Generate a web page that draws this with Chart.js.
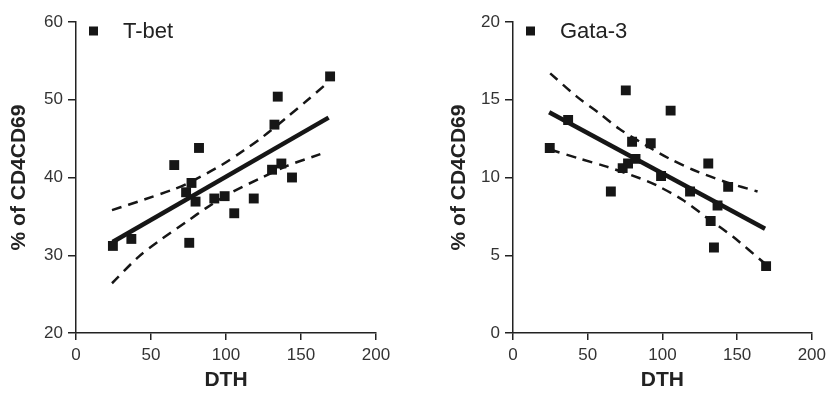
<!DOCTYPE html>
<html lang="en">
<head>
<meta charset="UTF-8">
<title>T-bet / Gata-3 vs DTH</title>
<script src="https://cdn.jsdelivr.net/npm/chart.js"></script>
<style>
  body { margin: 0; background: #fff; }
  .panel { position: absolute; top: 0; height: 398px; }
</style>
</head>
<body>
<div class="panel" style="left:0;width:415px"><canvas id="tbetChart" width="415" height="398"></canvas></div>
<div class="panel" style="left:437px;width:394px"><canvas id="gataChart" width="394" height="398"></canvas></div>

<script>
// DTH values (same subjects in both panels)
const dth = [24.6, 36.9, 65.5, 73.4, 75.5, 77.0, 79.7, 82.0, 92.2, 99.1, 105.5, 118.5, 130.7, 132.3, 134.5, 136.9, 144.0, 169.4];
// % of CD4CD69
const tbet  = [31.2, 32.1, 41.6, 38.1, 31.6, 39.3, 36.9, 43.8, 37.3, 37.6, 35.4, 37.3, 41.0, 46.8, 50.4, 41.8, 40.0, 53.0];
const gata3 = [11.9, 13.7, 9.1, 10.6, 15.6, 10.9, 12.3, 11.2, 12.2, 10.1, 14.3, 9.1, 10.9, 7.2, 5.5, 8.2, 9.4, 4.3];

// regression lines
const tbetFitX = [24.4, 168.4];
const tbetFitY = [31.7, 47.7];
const gataFitX = [24.2, 168.7];
const gataFitY = [14.2, 6.7];

// confidence bands (dashed)
const tbetUpperX = [24, 46, 64, 75, 97, 112, 125, 141, 154, 166];
const tbetUpperY = [35.8, 37.2, 38.4, 39.3, 41.6, 43.5, 45.3, 47.8, 49.9, 51.9];
const tbetLowerX = [24, 41.7, 55.1, 75.1, 86.2, 102.9, 122.9, 140.7, 162.9];
const tbetLowerY = [26.4, 29.8, 31.8, 34.5, 36.0, 38.0, 39.9, 41.5, 43.0];

const gataUpperX = [24.9, 42.7, 58.2, 71.5, 93.7, 104.9, 120.4, 142.7, 163.7];
const gataUpperY = [16.7, 15.2, 14.1, 13.1, 11.8, 11.2, 10.5, 9.7, 9.1];
const gataLowerX = [24.9, 44.9, 62.7, 84.9, 96, 113.7, 129.3, 147.1, 168.2];
const gataLowerY = [11.8, 11.2, 10.7, 9.95, 9.5, 8.55, 7.45, 6.2, 4.5];

const FONT = '"Liberation Sans", Arial, sans-serif';
const INK = '#161616';

function pts(xs, ys) {
    return xs.map((x, i) => ({ x: x, y: ys[i] }));
}

// little legend in the top-left corner of the plot
const cornerLabel = {
    id: 'cornerLabel',
    afterDraw(chart, args, opts) {
        const { ctx, chartArea } = chart;
        ctx.save();
        ctx.fillStyle = INK;
        ctx.fillRect(chartArea.left + 13, chartArea.top + 4.5, 9, 9);
        ctx.font = '22px ' + FONT;
        ctx.textBaseline = 'middle';
        ctx.fillStyle = '#222';
        ctx.fillText(opts.text, chartArea.left + 47, chartArea.top + 10);
        ctx.restore();
    }
};

function makePanel(id, o) {
    const dashed = { showLine: true, borderColor: INK, borderWidth: 2.5, borderDash: [10, 7], pointRadius: 0, tension: 0.3, fill: false };
    return new Chart(document.getElementById(id), {
        type: 'scatter',
        data: {
            datasets: [
                { label: o.name, data: pts(dth, o.values), pointStyle: 'rect', pointRadius: 7, pointHoverRadius: 7,
                  backgroundColor: INK, borderWidth: 0 },
                { data: pts(o.fitX, o.fitY), showLine: true, borderColor: INK, borderWidth: 4.5, pointRadius: 0 },
                Object.assign({ data: pts(o.upX, o.upY) }, dashed),
                Object.assign({ data: pts(o.loX, o.loY) }, dashed)
            ]
        },
        options: {
            responsive: false,
            animation: false,
            layout: { padding: { top: 22, right: o.padRight, left: 0, bottom: 0 } },
            plugins: {
                legend: { display: false },
                tooltip: { enabled: false },
                cornerLabel: { text: o.name }
            },
            scales: {
                x: {
                    type: 'linear', min: 0, max: 200,
                    ticks: { stepSize: 50, color: '#333', padding: 5, font: { family: FONT, size: 17 } },
                    grid: { drawOnChartArea: false, tickLength: 7, color: '#222', lineWidth: 1.5 },
                    border: { color: '#222', width: 1.5 },
                    title: { display: true, text: 'DTH', color: '#222', padding: { top: 0, bottom: 5 },
                             font: { family: FONT, size: 21, weight: 'bold' } },
                    afterFit: s => { s.height = 65; }
                },
                y: {
                    min: o.yMin, max: o.yMax,
                    ticks: { stepSize: o.yStep, color: '#333', padding: 5, font: { family: FONT, size: 17 } },
                    grid: { drawOnChartArea: false, tickLength: 8, color: '#222', lineWidth: 1.5 },
                    border: { color: '#222', width: 1.5 },
                    title: { display: true, text: '% of CD4CD69', color: '#222', padding: { top: o.titlePad, bottom: 0 },
                             font: { family: FONT, size: 21, weight: 'bold' } },
                    afterFit: s => { s.width = 76; }
                }
            }
        },
        plugins: [cornerLabel]
    });
}

makePanel('tbetChart', {
    name: 'T-bet', values: tbet,
    fitX: tbetFitX, fitY: tbetFitY,
    upX: tbetUpperX, upY: tbetUpperY, loX: tbetLowerX, loY: tbetLowerY,
    yMin: 20, yMax: 60, yStep: 10, padRight: 39, titlePad: 7
});

makePanel('gataChart', {
    name: 'Gata-3', values: gata3,
    fitX: gataFitX, fitY: gataFitY,
    upX: gataUpperX, upY: gataUpperY, loX: gataLowerX, loY: gataLowerY,
    yMin: 0, yMax: 20, yStep: 5, padRight: 18, titlePad: 10
});
</script>
</body>
</html>
